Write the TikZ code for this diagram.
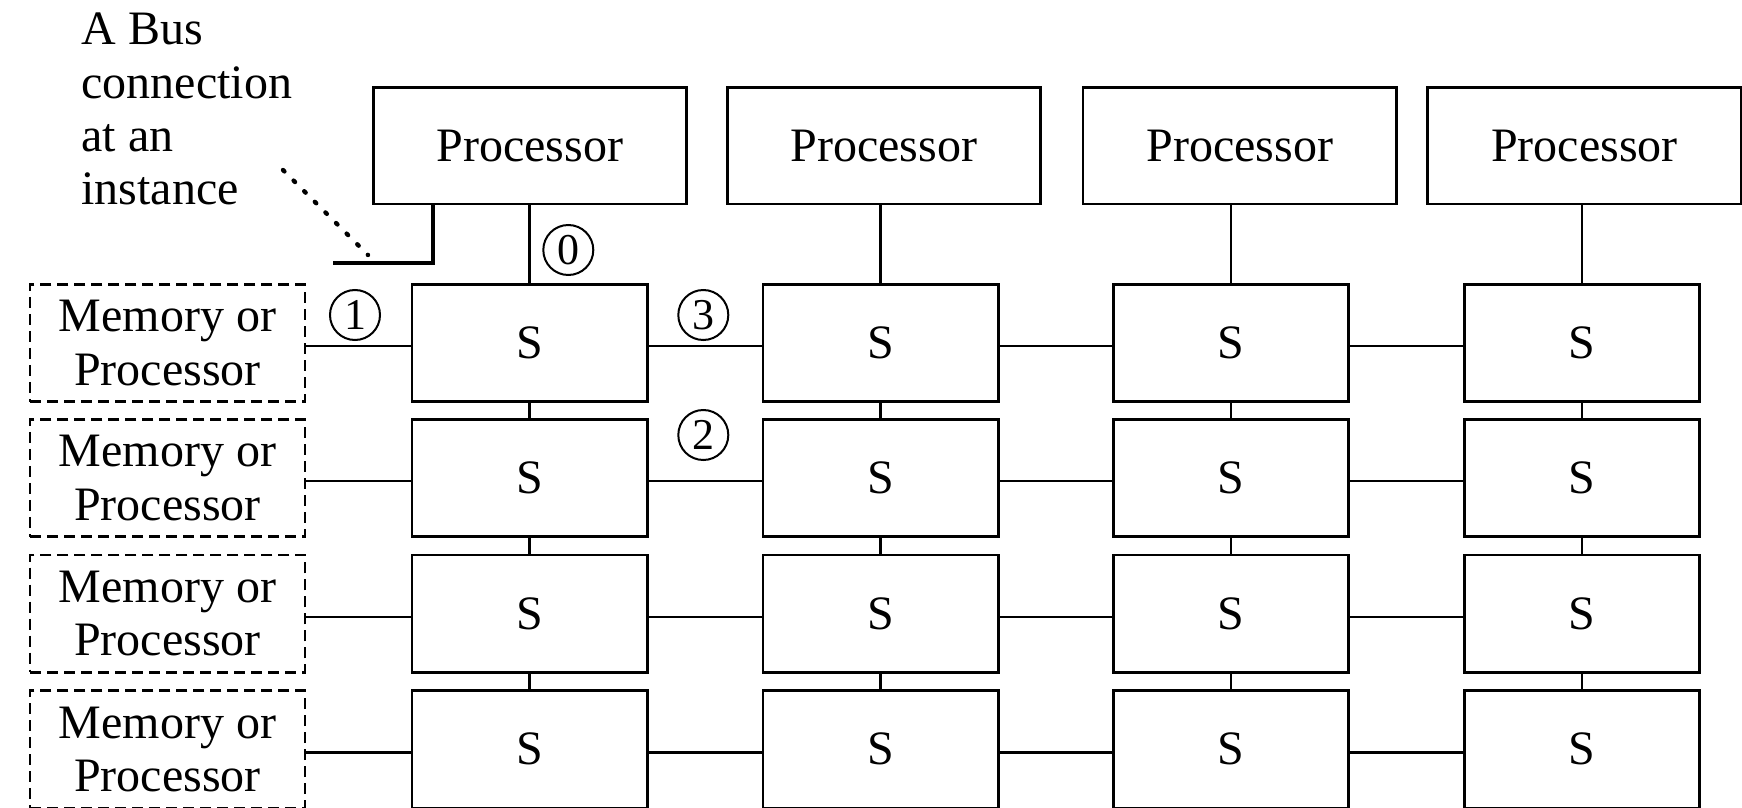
\documentclass[tikz,border=0pt]{standalone}
\usepackage{fontspec}
\setmainfont{Liberation Serif}
\begin{document}
\begin{tikzpicture}[x=0.5pt,y=-0.5pt,
  every node/.style={inner sep=0pt, outer sep=0pt, font=\fontsize{24}{26.65}\selectfont},
  procbox/.style={draw, line width=1.4pt, minimum width=156.7pt, minimum height=58.3pt},
  sbox/.style={draw, line width=1.4pt, minimum width=117.6pt, minimum height=58.7pt},
  membox/.style={draw, line width=1.4pt, dash pattern=on 5.5pt off 3pt, minimum width=137.5pt, minimum height=58.7pt, align=center},
  conn/.style={line width=1.2pt},
  bus/.style={line width=2.1pt},
  dotline/.style={line width=2.2pt, line cap=round, dash pattern=on 1pt off 6.5pt},
  numc/.style={draw, circle, line width=1pt, minimum size=25pt, font=\fontsize{22}{22}\selectfont}]
\useasboundingbox (0,0) rectangle (1742,808);
\fill[white] (0,0) rectangle (1742,808);

% processors
\node[procbox] (p1) at (530,145.8) {Processor};
\node[procbox] (p2) at (884,145.8) {Processor};
\node[procbox] (p3) at (1239.7,145.8) {Processor};
\node[procbox] (p4) at (1584.5,145.8) {Processor};

% switches
\foreach \c/\x in {1/529.5,2/880.5,3/1231.2,4/1582.2}
  \foreach \r/\y in {1/343,2/478,3/613.7,4/749.3}
    \node[sbox] (s\r\c) at (\x,\y) {S};

% memory or processor boxes
\foreach \r/\y in {1/343,2/478,3/613.7,4/749.3}
  \node[membox] (m\r) at (167.5,\y) {Memory or\\Processor};

% vertical connectors
\foreach \c in {1,...,4}
  \draw[conn] (s1\c.north) -- (s1\c.north |- p\c.south);
\foreach \c in {1,...,4}
  \foreach \r/\n in {1/2,2/3,3/4}
    \draw[conn] (s\r\c.south) -- (s\n\c.north);

% horizontal connectors
\foreach \r in {1,...,4} {
  \draw[conn] ([yshift=-1.5pt]m\r.east) -- ([yshift=-1.5pt]s\r1.west);
  \draw[conn] ([yshift=-1.5pt]s\r1.east) -- ([yshift=-1.5pt]s\r2.west);
  \draw[conn] ([yshift=-1.5pt]s\r2.east) -- ([yshift=-1.5pt]s\r3.west);
  \draw[conn] ([yshift=-1.5pt]s\r3.east) -- ([yshift=-1.5pt]s\r4.west);
}

% bus connection
\coordinate (busc) at (432.7,263.3);
\coordinate (buse) at (333.3,263.3);
\draw[bus] (p1.south -| busc) -- (busc) -- (buse);

% annotation
\node[anchor=north west, align=left] (note) at (81.5,13.3) {A Bus\\connection\\at an\\instance};
\coordinate (dA) at (283,170);
\coordinate (dB) at (368,255);
\draw[dotline] (dA) -- (dB);

% circled numbers
\node[numc] (n0) at (568.3,250) {0};
\node[numc] (n1) at (355,315) {1};
\node[numc] (n3) at (703.3,315) {3};
\node[numc] (n2) at (703.3,435) {2};
\end{tikzpicture}
\end{document}
